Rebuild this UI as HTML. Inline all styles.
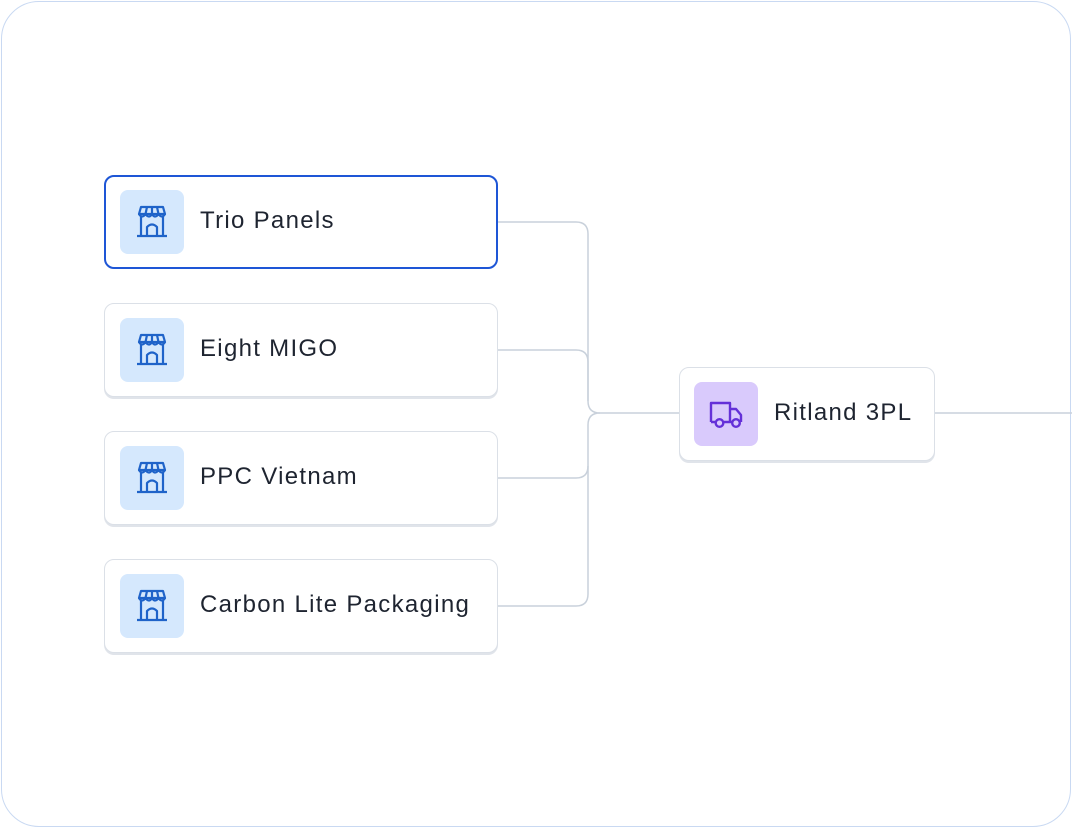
<!DOCTYPE html>
<html><head><style>
body{margin:0;width:1072px;height:828px;background:#fff;position:relative;overflow:hidden;font-family:"Liberation Sans",sans-serif}
.frame{position:absolute;left:1px;top:1px;width:1068px;height:824px;border:1.5px solid #c9d9f2;border-radius:38px}
.node{position:absolute;background:#fff;border:1.5px solid #dbe0e7;border-radius:10px;box-shadow:0 2px 0 #e0e4ea;box-sizing:border-box}
.node.sel{border:2px solid #1e56d6;box-shadow:none}
.ic{position:absolute;width:64px;height:64px;border-radius:8px;background:#d5e8fd;display:flex;align-items:center;justify-content:center}
.t{position:absolute;font-size:24px;letter-spacing:1.3px;color:#1e2430;white-space:nowrap}
svg.l{position:absolute;left:0;top:0}
</style></head><body>
<div class="frame"></div>
<svg class="l" width="1072" height="828"><g fill="none" stroke="#c9d1db" stroke-width="1.5">
<path d="M497 222 H576 Q588 222 588 234 V401 Q588 413 600 413 H679"/>
<path d="M497 350 H576 Q588 350 588 362 V401"/>
<path d="M497 606 H576 Q588 606 588 594 V425 Q588 413 600 413"/>
<path d="M497 478 H576 Q588 478 588 466"/>
<path d="M935 413 H1072"/>
</g></svg>
<div class="node sel" style="left:104px;top:175px;width:394px;height:94px"></div>
<div class="node" style="left:104px;top:303px;width:394px;height:94px"></div>
<div class="node" style="left:104px;top:431px;width:394px;height:94px"></div>
<div class="node" style="left:104px;top:559px;width:394px;height:94px"></div>
<div class="node" style="left:679px;top:367px;width:256px;height:94px"></div>
<svg width="0" height="0" style="position:absolute"><defs>
<g id="shop" fill="none" stroke="#1f63c9" stroke-width="2.2" stroke-linejoin="round">
<path d="M-13 -8 L-11 -15 H11 L13 -8 Z"/>
<path d="M-13 -8 Q-10 -3 -6.5 -8 Q-3 -3 0 -8 Q3 -3 6.5 -8 Q10 -3 13 -8"/>
<path d="M-6.5 -8 L-5 -15 M6.5 -8 L5 -15 M0 -8 V-15"/>
<path d="M-11 -5 V14 M11 -5 V14 M-15 14 H15"/>
<path d="M-5 14 V5 Q0 0 5 5 V14"/>
</g></defs></svg>
<div class="ic" style="left:120px;top:190px"><svg width="40" height="40" viewBox="-20 -20 40 40"><use href="#shop"/></svg></div>
<div class="ic" style="left:120px;top:318px"><svg width="40" height="40" viewBox="-20 -20 40 40"><use href="#shop"/></svg></div>
<div class="ic" style="left:120px;top:446px"><svg width="40" height="40" viewBox="-20 -20 40 40"><use href="#shop"/></svg></div>
<div class="ic" style="left:120px;top:574px"><svg width="40" height="40" viewBox="-20 -20 40 40"><use href="#shop"/></svg></div>
<div class="ic" style="left:694px;top:382px;background:#d9cafc"><svg width="40" height="40" viewBox="-20 -20 40 40"><g fill="none" stroke="#6430d8" stroke-width="2.4" stroke-linejoin="round"><path d="M-15 8 V-11 H4 V8 M4 -5 H10 L15 1 V8 M-15 8 H-11 M-2 8 H6"/><circle cx="-6.5" cy="9" r="3.8"/><circle cx="10" cy="9" r="3.8"/></g></svg></div>
<div class="t" style="left:200px;top:207px">Trio Panels</div>
<div class="t" style="left:200px;top:335px">Eight MIGO</div>
<div class="t" style="left:200px;top:463px">PPC Vietnam</div>
<div class="t" style="left:200px;top:591px">Carbon Lite Packaging</div>
<div class="t" style="left:774px;top:399px">Ritland 3PL</div>
</body></html>
